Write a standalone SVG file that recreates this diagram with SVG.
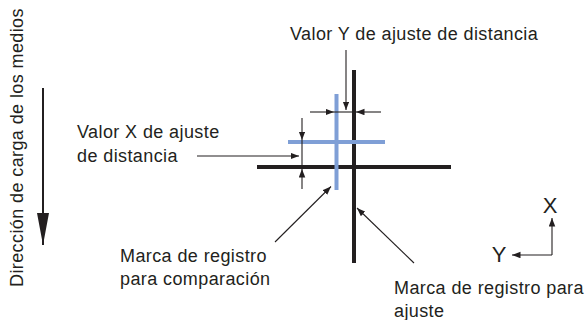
<svg xmlns="http://www.w3.org/2000/svg" width="586" height="320" viewBox="0 0 586 320">
  <style>
    .lbl { font-family: "Liberation Sans", Arial, Helvetica, sans-serif; font-size: 18px; fill: #231f20; letter-spacing: 0.4px; }
    .axis { font-family: "Liberation Sans", Arial, Helvetica, sans-serif; font-size: 22px; fill: #231f20; text-anchor: middle; }
    .ln { stroke: #231f20; stroke-width: 1.1; fill: none; }
    .blk { stroke: #231f20; stroke-width: 4; fill: none; }
    .blu { stroke: #7f9fd6; stroke-width: 4; fill: none; }
  </style>
  <defs>
    <marker id="ah" markerUnits="userSpaceOnUse" markerWidth="9" markerHeight="7" refX="8.5" refY="3.25" orient="auto">
      <path d="M0,0 L8.5,3.25 L0,6.5 z" fill="#231f20"/>
    </marker>
    <marker id="bigah" markerUnits="userSpaceOnUse" markerWidth="32" markerHeight="13" refX="32" refY="6" orient="auto">
      <path d="M0,0 L32,6 L0,12 z" fill="#231f20"/>
    </marker>
  </defs>

  <g id="media-direction">
    <text class="lbl" transform="translate(23,287) rotate(-90)">Dirección de carga de los medios</text>
    <line x1="43" y1="88" x2="43" y2="245" stroke="#231f20" stroke-width="2" marker-end="url(#bigah)"/>
  </g>

  <g id="adjust-mark">
    <line class="blk" x1="354" y1="70" x2="354" y2="263"/>
    <line class="blk" x1="257" y1="167" x2="451" y2="167"/>
  </g>

  <g id="compare-mark">
    <line class="blu" x1="336.5" y1="94" x2="336.5" y2="190"/>
    <line class="blu" x1="288" y1="142" x2="385" y2="142"/>
  </g>

  <g id="label-y">
    <text class="lbl" x="290" y="40">Valor Y de ajuste de distancia</text>
  </g>
  <g id="label-x">
    <text class="lbl" x="77" y="138">Valor X de ajuste</text>
    <text class="lbl" x="77" y="162">de distancia</text>
  </g>
  <g id="label-compare">
    <text class="lbl" x="120" y="262">Marca de registro</text>
    <text class="lbl" x="120" y="285">para comparación</text>
  </g>
  <g id="label-adjust">
    <text class="lbl" x="394" y="294">Marca de registro para</text>
    <text class="lbl" x="394" y="317">ajuste</text>
  </g>

  <g id="xy-axes">
    <text class="axis" x="550" y="213">X</text>
    <text class="axis" x="499" y="262">Y</text>
    <path class="ln" d="M552,255 V218" marker-end="url(#ah)"/>
    <path class="ln" d="M552,255 H512" marker-end="url(#ah)"/>
  </g>

  <g id="connectors">
    <!-- Y distance dimension -->
    <path class="ln" d="M346,50 V110" marker-end="url(#ah)"/>
    <path class="ln" d="M334,112 H356"/>
    <path class="ln" d="M310,112 H334" marker-end="url(#ah)"/>
    <path class="ln" d="M381,112 H356" marker-end="url(#ah)"/>
    <!-- X distance dimension -->
    <path class="ln" d="M302,140 V169"/>
    <path class="ln" d="M302,118 V140" marker-end="url(#ah)"/>
    <path class="ln" d="M302,189 V169" marker-end="url(#ah)"/>
    <path class="ln" d="M197,156 H299" marker-end="url(#ah)"/>
    <!-- leaders -->
    <path class="ln" d="M275,242 L331,186.5" marker-end="url(#ah)"/>
    <path class="ln" d="M414,263 L357,208" marker-end="url(#ah)"/>
  </g>
</svg>
